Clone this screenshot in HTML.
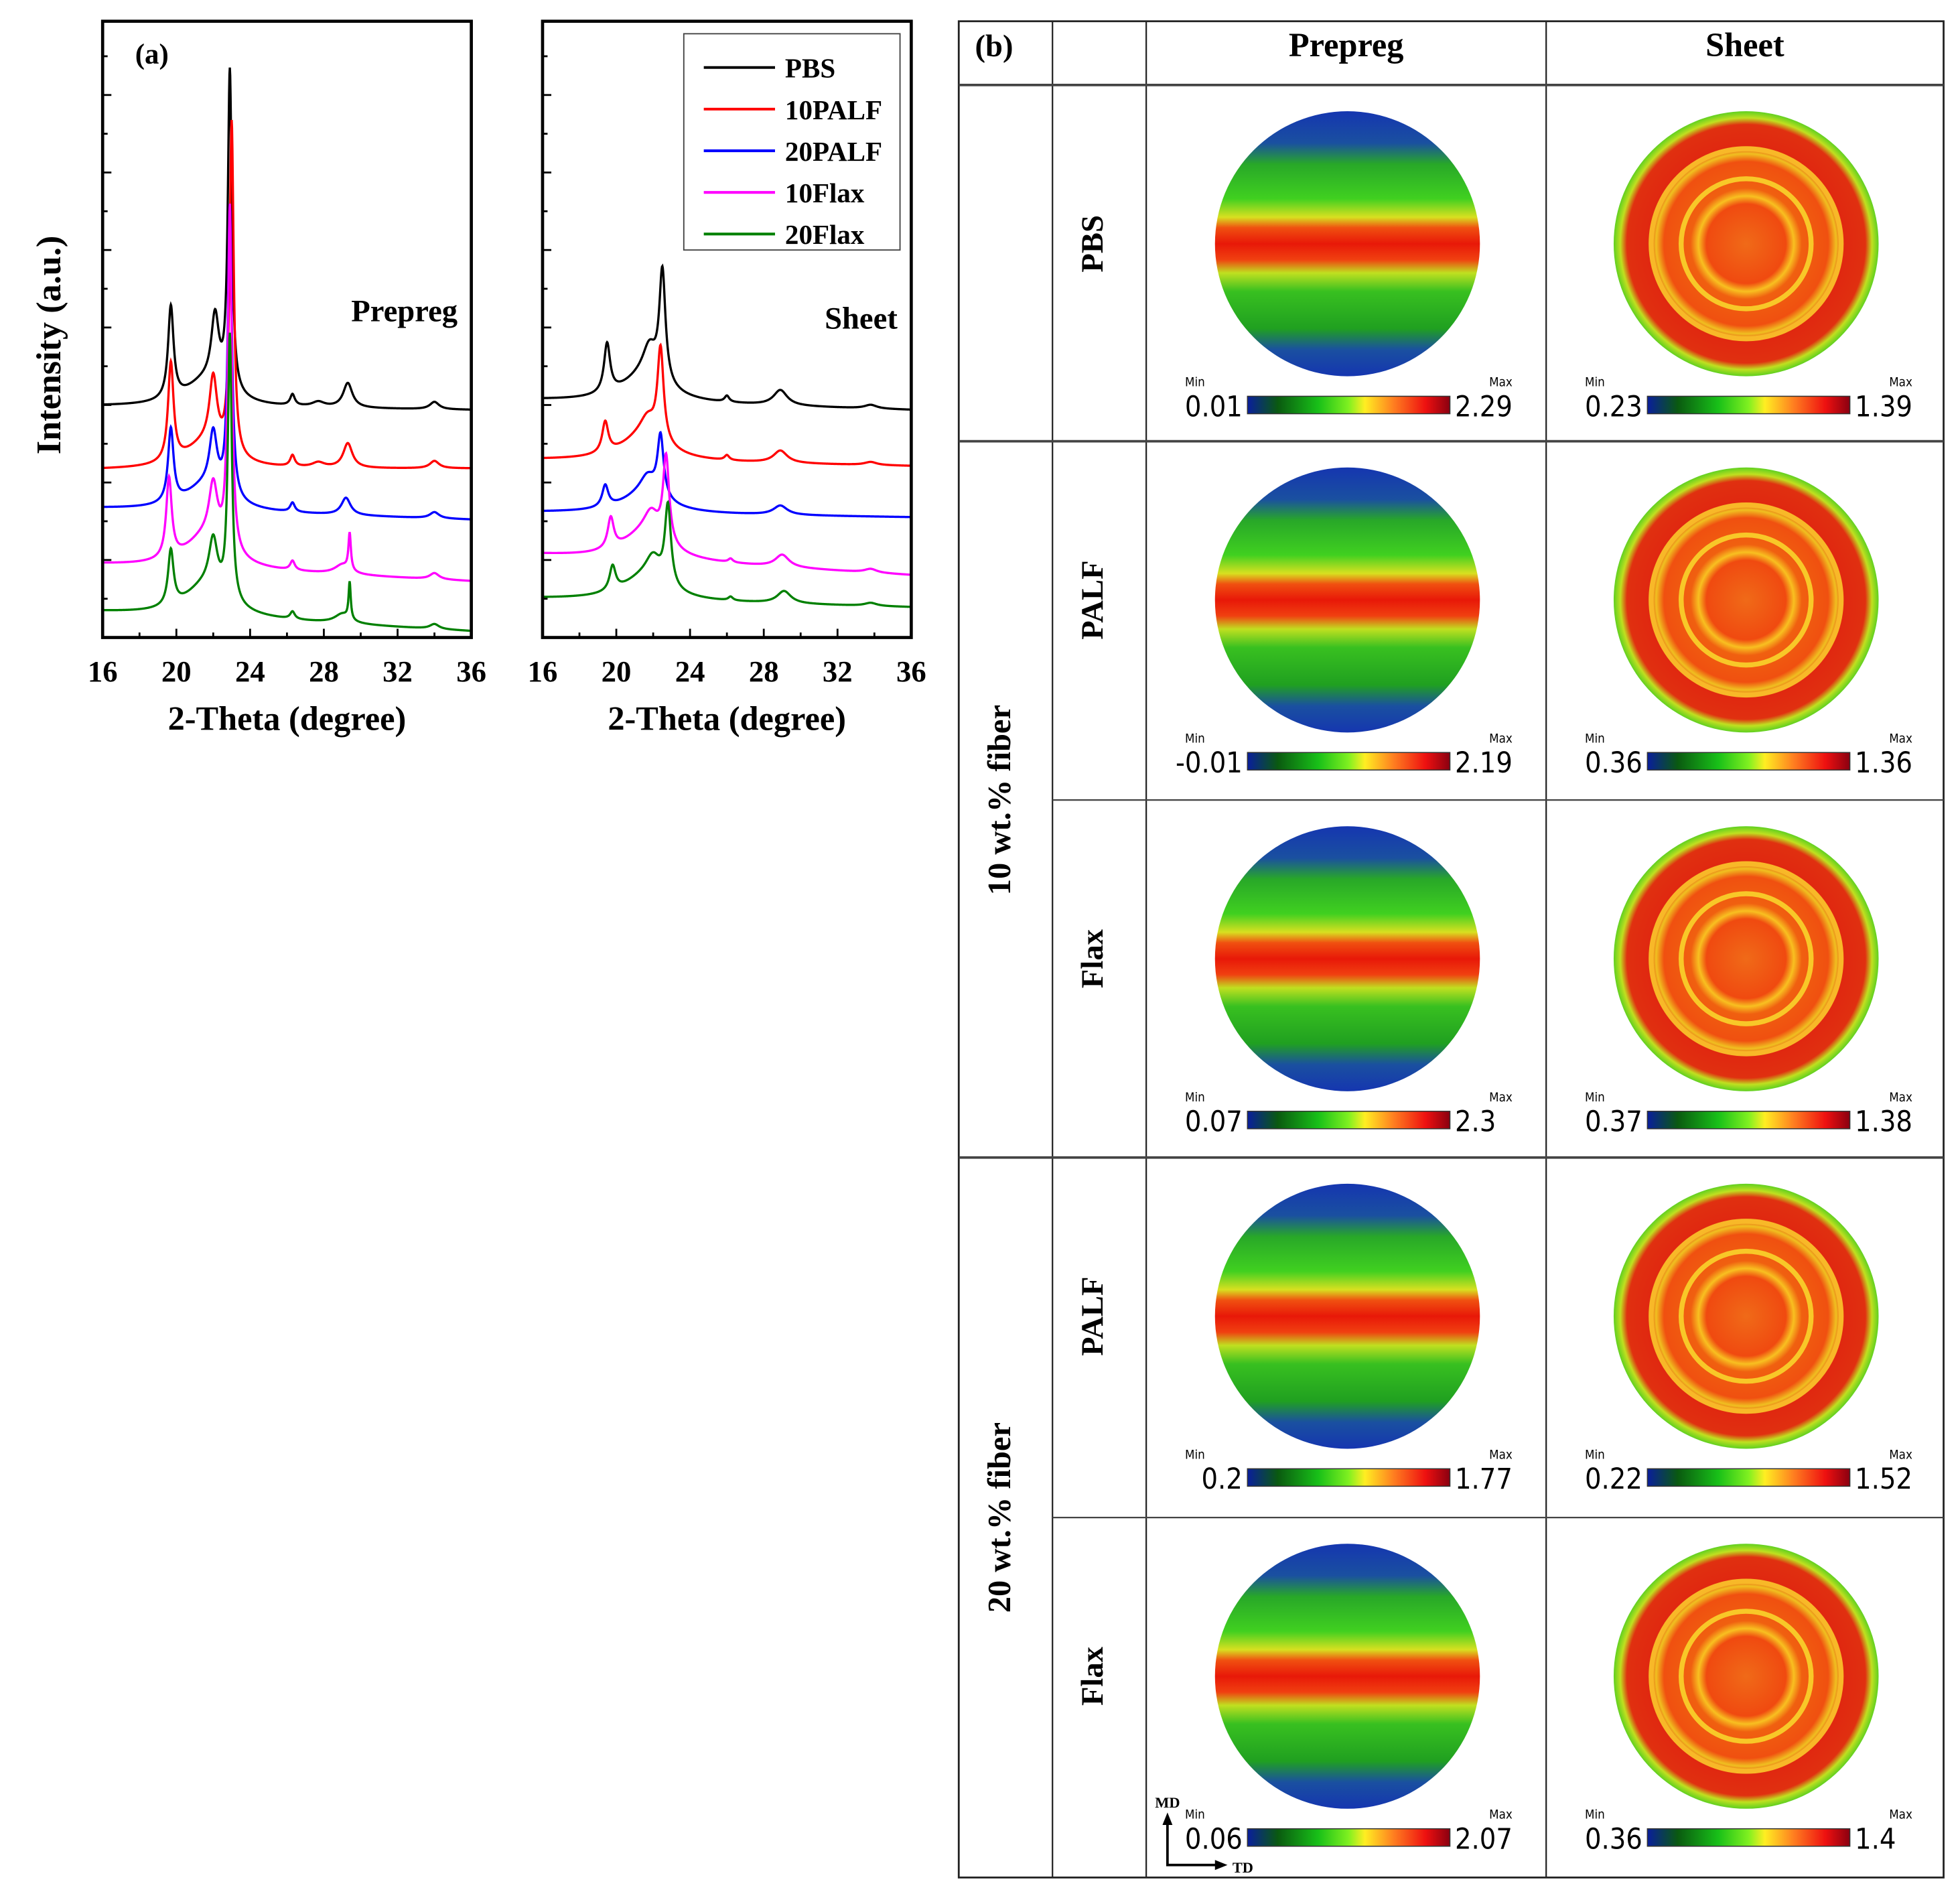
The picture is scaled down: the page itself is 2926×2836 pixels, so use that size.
<!DOCTYPE html>
<html><head><meta charset="utf-8"><style>
html,body{margin:0;padding:0;background:#fff;}
svg{display:block;}
.ser{font-family:"Liberation Serif",serif;font-weight:bold;}
.san{font-family:"DejaVu Sans Condensed","DejaVu Sans","Liberation Sans",sans-serif;}
</style></head><body>
<svg id="fig" width="2926" height="2836" viewBox="0 0 1568 1520" xmlns="http://www.w3.org/2000/svg">
<defs>
<linearGradient id="cbar" x1="0" x2="1" y1="0" y2="0">
<stop offset="0" stop-color="#0a1e9c"/><stop offset="0.15" stop-color="#0a5a10"/><stop offset="0.35" stop-color="#18c018"/><stop offset="0.5" stop-color="#80f020"/><stop offset="0.58" stop-color="#ffee22"/><stop offset="0.72" stop-color="#ff8020"/><stop offset="0.88" stop-color="#ee1010"/><stop offset="1" stop-color="#8a0010"/>
</linearGradient>
<linearGradient id="prep" x1="0" x2="0" y1="0" y2="1">
<stop offset="0" stop-color="#1536b0"/><stop offset="0.12" stop-color="#1a50a0"/><stop offset="0.2" stop-color="#28a828"/><stop offset="0.33" stop-color="#40d020"/><stop offset="0.4" stop-color="#d8e020"/><stop offset="0.44" stop-color="#f05010"/><stop offset="0.5" stop-color="#e81808"/><stop offset="0.56" stop-color="#f04010"/><stop offset="0.61" stop-color="#c0e020"/><stop offset="0.68" stop-color="#38c020"/><stop offset="0.82" stop-color="#20a020"/><stop offset="0.9" stop-color="#1a50a0"/><stop offset="1" stop-color="#1536b0"/>
</linearGradient>
<radialGradient id="sheet" cx="0.5" cy="0.5" r="0.5">
<stop offset="0" stop-color="#f06a18"/><stop offset="0.3" stop-color="#f04a10"/><stop offset="0.36" stop-color="#f8c020"/><stop offset="0.42" stop-color="#f06010"/><stop offset="0.62" stop-color="#f05010"/><stop offset="0.68" stop-color="#f0c020"/><stop offset="0.74" stop-color="#e02810"/><stop offset="0.9" stop-color="#e03010"/><stop offset="0.95" stop-color="#c0e020"/><stop offset="1" stop-color="#60d020"/>
</radialGradient>
</defs>
<g id="plots"></g>
<g id="table"></g>
</svg>
<script>
const NS="http://www.w3.org/2000/svg";
// ---- XRD data (intensity a.u., 0-100 axis) ----
const seriesNames=["PBS","10PALF","20PALF","10Flax","20Flax"];
const seriesColors=["#000000","#ff0000","#0000ff","#ff00ff","#008000"];
const xTicks=[16,20,24,28,32,36];
const prepBaseStart=[37.5,27.2,20.9,11.8,4.1];
const prepBaseEnd=[36.9,27.4,19.1,9.1,1.0];
const sheetBaseStart=[38.5,28.8,20.3,13.4,6.3];
const sheetBaseEnd=[36.9,27.8,19.5,10.1,4.9];
// peaks: [position, height, half-width]
const prepPeaks=[
 [[19.7,15,0.18],[22.1,11,0.25],[22.9,52,0.13],[21.6,4,1.4],[26.3,1.8,0.15],[27.7,0.8,0.4],[29.3,4,0.3],[34.0,1.2,0.3]],
 [[19.7,16,0.18],[22.0,11,0.25],[23.0,54,0.13],[21.6,4,1.4],[26.3,1.8,0.15],[27.7,0.8,0.4],[29.3,4,0.3],[34.0,1.2,0.3]],
 [[19.7,12,0.18],[22.0,9,0.25],[22.9,47,0.13],[21.6,4,1.4],[26.3,1.5,0.15],[29.2,2.8,0.3],[34.0,1,0.3]],
 [[19.6,13,0.18],[22.0,9,0.28],[22.9,56,0.13],[21.6,5,1.4],[26.3,1.5,0.15],[29.4,6,0.08],[29.0,1.5,0.5],[34.0,1,0.3]],
 [[19.7,9,0.18],[22.0,8,0.28],[22.9,43,0.13],[21.6,5,1.4],[26.3,1.2,0.15],[29.4,6,0.07],[29.0,1.5,0.5],[34.0,0.8,0.3]]
];
const sheetPeaks=[
 [[19.5,8,0.2],[21.8,5,0.45],[22.5,18,0.2],[21.5,4,1.5],[26.0,1,0.15],[28.9,2.5,0.45],[33.8,0.6,0.4]],
 [[19.4,5,0.2],[21.7,3,0.5],[22.4,15,0.2],[21.5,4,1.5],[26.0,0.8,0.15],[28.9,2,0.45],[33.8,0.5,0.4]],
 [[19.4,3.5,0.2],[21.7,3,0.5],[22.4,10,0.2],[21.5,3,1.5],[28.9,1.5,0.45]],
 [[19.7,5,0.2],[21.9,4,0.5],[22.7,14,0.2],[21.5,4,1.5],[26.2,0.6,0.15],[29.0,2,0.45],[33.8,0.6,0.4]],
 [[19.8,4,0.2],[22.0,4,0.5],[22.8,13,0.2],[21.5,3.5,1.5],[26.2,0.6,0.15],[29.1,2,0.45],[33.8,0.5,0.4]]
];
const legendLabels=["PBS","10PALF","20PALF","10Flax","20Flax"];

// ---- table data ----
const colHeads=["Prepreg","Sheet"];
const rowLabels=["PBS","PALF","Flax","PALF","Flax"];
const prepMin=["0.01","-0.01","0.07","0.2","0.06"];
const prepMax=["2.29","2.19","2.3","1.77","2.07"];
const sheetMin=["0.23","0.36","0.37","0.22","0.36"];
const sheetMax=["1.39","1.36","1.38","1.52","1.4"];

function el(tag,attrs,parent,text){const e=document.createElementNS(NS,tag);for(const k in attrs)e.setAttribute(k,attrs[k]);if(text!==undefined)e.textContent=text;parent.appendChild(e);return e;}

const plots=document.getElementById('plots');
const Y0=510,Y1=17;
function yScale(v){return Y0-(v/100)*(Y0-Y1);}
function drawPanel(x0,x1,baseS,baseE,peaks,name,label){
  const xs=v=>x0+(v-16)/20*(x1-x0);
  const g=el('g',{},plots);
  
  
  for(let s=0;s<peaks.length;s++){
    let d="";
    for(let t=16;t<=36.0001;t+=0.02){
      let v=baseS[s]+(baseE[s]-baseS[s])*(t-16)/20;
      for(const p of peaks[s]){const u=(t-p[0])/p[2];v+=p[1]/(1+u*u);}
      d+=(d?"L":"M")+xs(t).toFixed(2)+","+yScale(v).toFixed(2);
    }
    const path=el('path',{d:d,fill:'none',stroke:seriesColors[s],'stroke-width':1.8},g);
    
    
  }
  const fr=el('rect',{x:x0,y:Y1,width:x1-x0,height:Y0-Y1,fill:'none',stroke:'#000','stroke-width':2.5},g);
  
  
  for(let t=16;t<=36;t+=2){
    const major=xTicks.includes(t);
    el('line',{x1:xs(t),x2:xs(t),y1:Y0,y2:Y0-(major?7:4),stroke:'#000','stroke-width':1.5},g);
  }
  for(const t of xTicks){
    const tl=el('text',{x:xs(t),y:545,'text-anchor':'middle','font-size':24,class:'ser'},g,String(t));
    
    
  }
  for(let i=1;i<16;i++){
    const y=Y0-i*31;
    if(y<=Y1+4)break;
    el('line',{x1:x0,x2:x0+(i%2===0?7:4),y1:y,y2:y,stroke:'#000','stroke-width':1.5},g);
  }
  const xt=el('text',{x:(x0+x1)/2,y:584,'text-anchor':'middle','font-size':27,class:'ser'},g,"2-Theta (degree)");
  
  
  const lb=el('text',{x:x1-11,y:label[1],'text-anchor':'end','font-size':25,class:'ser'},g,label[0]);
  
  
}
drawPanel(82,377,prepBaseStart,prepBaseEnd,prepPeaks,'prepreg',["Prepreg",257]);
drawPanel(434,729,sheetBaseStart,sheetBaseEnd,sheetPeaks,'sheet',["Sheet",263]);
{
 const a=el('text',{x:108,y:51,'font-size':23,class:'ser'},plots,"(a)");
 
 
 const yt=el('text',{x:48,y:276,'text-anchor':'middle','font-size':28,class:'ser',transform:'rotate(-90 48 276)'},plots,"Intensity (a.u.)");
 
 
 const lg=el('g',{},plots);
 
 
 el('rect',{x:547,y:27,width:173,height:173,fill:'#fff',stroke:'#444','stroke-width':1},lg);
 for(let i=0;i<legendLabels.length;i++){
  const y=54+i*33.3;
  const ln=el('line',{x1:563,x2:620,y1:y,y2:y,stroke:seriesColors[i],'stroke-width':2.2},lg);
  
  
  const tx=el('text',{x:628,y:y+8,'font-size':22,class:'ser'},lg,legendLabels[i]);
  
  
 }
}

// ---- table ----
const tb=document.getElementById('table');
const L=767,R=1555,T=17,B=1502;
const cx=[842,917,1237];
const rowY=[68,353,640,926,1214,1502];
el('rect',{x:L,y:T,width:R-L,height:B-T,fill:'none',stroke:'#222','stroke-width':1.5},tb);
for(const x of cx)el('line',{x1:x,x2:x,y1:T,y2:B,stroke:'#222','stroke-width':1.2},tb);
el('line',{x1:L,x2:R,y1:68,y2:68,stroke:'#444','stroke-width':2},tb);
for(let i=1;i<5;i++){
  const startX=(i===2||i===4)?842:L;
  el('line',{x1:startX,x2:R,y1:rowY[i],y2:rowY[i],stroke:'#444','stroke-width':(i===1||i===3)?2:1.2},tb);
}
{
 const b=el('text',{x:780,y:45,'font-size':25,class:'ser'},tb,"(b)");
 
 
 const hx=[1077,1396];
 for(let c=0;c<2;c++){
  const h=el('text',{x:hx[c],y:45,'text-anchor':'middle','font-size':27,class:'ser'},tb,colHeads[c]);
  
  
 }
 const g1=el('text',{x:808,y:640,'text-anchor':'middle','font-size':26,class:'ser',transform:'rotate(-90 808 640)'},tb,"10 wt.% fiber");
 
 
 const g2=el('text',{x:808,y:1214,'text-anchor':'middle','font-size':26,class:'ser',transform:'rotate(-90 808 1214)'},tb,"20 wt.% fiber");
 
 
}
for(let r=0;r<5;r++){
  const top=rowY[r], cyc=top+127, cbY=top+256;
  const rl=el('text',{x:882,y:cyc,'text-anchor':'middle','font-size':25,class:'ser',transform:`rotate(-90 882 ${cyc})`},tb,rowLabels[r]);
  
  
  const cols=[[1078,'url(#prep)',prepMin[r],prepMax[r],998,1160],[1397,'url(#sheet)',sheetMin[r],sheetMax[r],1318,1480]];
  for(let c=0;c<2;c++){
    const [x,fill,mn,mx,b0,b1]=cols[c];
    const circ=el('ellipse',{cx:x,cy:cyc,rx:106,ry:106,fill:fill},tb);
    
    
    if(c===1){el('circle',{cx:x,cy:cyc,r:52,fill:'none',stroke:'#f8c828','stroke-width':4},tb);el('circle',{cx:x,cy:cyc,r:76,fill:'none',stroke:'#f8b828','stroke-width':4},tb);}
    const cb=el('rect',{x:b0,y:cbY-7,width:b1-b0,height:14,fill:'url(#cbar)',stroke:'#333','stroke-width':0.8},tb);
    
    
    el('text',{x:b0-50,y:cbY-15,'font-size':10,class:'san'},tb,"Min");
    el('text',{x:b1+50,y:cbY-15,'font-size':10,'text-anchor':'end',class:'san'},tb,"Max");
    const t1=el('text',{x:b0-4,y:cbY+9,'font-size':23,'text-anchor':'end',class:'san'},tb,mn);
    
    
    const t2=el('text',{x:b1+4,y:cbY+9,'font-size':23,class:'san'},tb,mx);
    
    
  }
}
{
 const ax=el('g',{},tb);
 
 
 el('path',{d:'M934,1455 L934,1492 L975,1492',fill:'none',stroke:'#000','stroke-width':2},ax);
 el('path',{d:'M930,1460 L934,1450 L938,1460 Z',fill:'#000'},ax);
 el('path',{d:'M972,1488 L982,1492 L972,1496 Z',fill:'#000'},ax);
 el('text',{x:924,y:1446,'font-size':12,class:'ser'},ax,"MD");
 el('text',{x:986,y:1498,'font-size':12,class:'ser'},ax,"TD");
}
</script>
</body></html>
